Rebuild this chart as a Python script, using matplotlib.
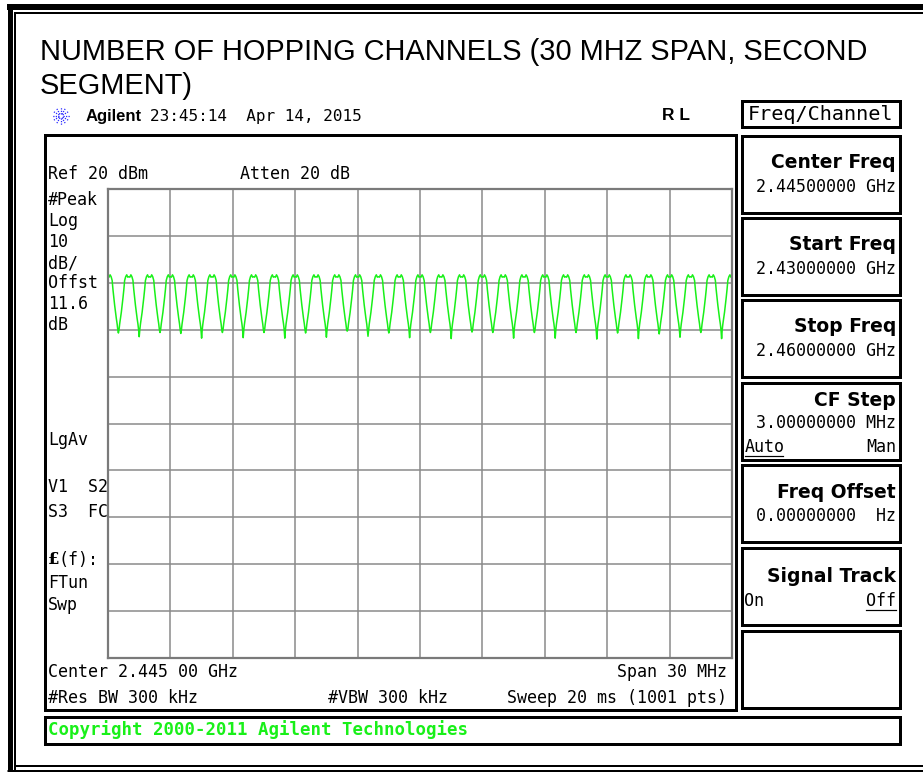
import numpy as np
import matplotlib
matplotlib.use('Agg')
from matplotlib import pyplot as plt
from matplotlib.patches import Rectangle

# ---- trace data ----
# channel centres (MHz), 1 MHz hopping raster across the 30 MHz span
channel_mhz = [2430, 2431, 2432, 2433, 2434, 2435, 2436, 2437, 2438, 2439,
               2440, 2441, 2442, 2443, 2444, 2445, 2446, 2447, 2448, 2449,
               2450, 2451, 2452, 2453, 2454, 2455, 2456, 2457, 2458, 2459,
               2460]
# level at the notch between neighbouring channels (dBm)
dip_dbm = [-10.7, -11.5, -10.6, -10.8, -11.8, -10.6, -11.7, -10.6, -11.8, -10.7,
           -11.6, -10.3, -11.4, -10.7, -11.7, -10.6, -11.9, -10.5, -10.6, -11.8,
           -10.6, -11.8, -10.6, -12.0, -10.7, -11.9, -10.9, -11.6, -10.6, -11.9]
# flat top of one channel (offset from centre in MHz, level dBm)
top_offset_mhz = [-0.20, -0.15, -0.10, -0.05, 0.00, 0.05, 0.10, 0.15, 0.20]
top_dbm = [0.5, 1.3, 1.7, 1.2, 1.3, 1.2, 1.7, 1.3, 0.5]
# skirt falling from the top into the notch
skirt_offset_mhz = [0.24, 0.28, 0.32, 0.36, 0.40, 0.44, 0.47]
skirt_dbm = [-1.5, -3.2, -4.8, -6.3, -7.6, -8.8, -10.0]

span_mhz = (2430, 2460)
ref_dbm = 20
db_per_div = 10

softkeys = [('Center Freq', '2.44500000 GHz'),
            ('Start Freq', '2.43000000 GHz'),
            ('Stop Freq', '2.46000000 GHz'),
            ('CF Step', '3.00000000 MHz'),
            ('Freq Offset', '0.00000000  Hz'),
            ('Signal Track', ''),
            ('', '')]
left_labels = ['#Peak', 'Log', '10', 'dB/', 'Offst', '11.6', 'dB']
left_label_y = [200, 221, 242, 263, 283, 304, 325]
status_labels = ['LgAv', 'V1  S2', 'S3  FC', 'FTun', 'Swp']
status_label_y = [440, 487, 512, 583, 605]

# ---- build trace ----
xs, ys = [], []
last = len(channel_mhz) - 1
for i, c in enumerate(channel_mhz):
    if i > 0:
        for off, lvl in zip(skirt_offset_mhz[::-1], skirt_dbm[::-1]):
            xs.append(c - off)
            ys.append(lvl)
    for off, lvl in zip(top_offset_mhz, top_dbm):
        xs.append(c + off)
        ys.append(lvl)
    if i < last:
        for off, lvl in zip(skirt_offset_mhz, skirt_dbm):
            xs.append(c + off)
            ys.append(lvl)
        xs.append(c + 0.5)
        ys.append(dip_dbm[i])

W, H = 923, 772
MONO = 'DejaVu Sans Mono'
GREEN = '#19f019'

fig = plt.figure(figsize=(W / 100, H / 100), dpi=100)
fig.patch.set_facecolor('white')

# pixel-unit overlay for the frame and instrument annotations
bg = fig.add_axes([0, 0, 1, 1])
bg.set_xlim(0, W)
bg.set_ylim(H, 0)
bg.axis('off')


def px(v):
    return v * 0.72


# page frame (thick / thin double rule)
bg.plot([9.5, 9.5], [4, H], color='black', lw=px(5), solid_capstyle='butt')
bg.plot([15, 15], [12, H], color='black', lw=px(2), solid_capstyle='butt')
bg.plot([7, W], [7, 7], color='black', lw=px(6), solid_capstyle='butt')
bg.plot([14, W], [13, 13], color='black', lw=px(2), solid_capstyle='butt')
bg.plot([14, W], [766, 766], color='black', lw=px(2), solid_capstyle='butt')
bg.plot([7, W], [770.5, 770.5], color='black', lw=px(3), solid_capstyle='butt')

# title
bg.text(40, 60, 'NUMBER OF HOPPING CHANNELS (30 MHZ SPAN, SECOND',
        fontsize=20.9, family='Liberation Sans', va='baseline')
bg.text(40, 94, 'SEGMENT)', fontsize=20.9, family='Liberation Sans', va='baseline')

# header line
cx, cy = 61, 116
for a in np.deg2rad(np.arange(0, 360, 30)):
    bg.plot([cx + 2 * np.cos(a), cx + 9 * np.cos(a)],
            [cy + 2 * np.sin(a), cy + 9 * np.sin(a)],
            color='#2a2aff', lw=0.9, ls=(0, (1, 1)))
bg.text(86, 116, 'Agilent', fontsize=12, family='Liberation Sans',
        weight='bold', va='center')
bg.text(150, 116, '23:45:14  Apr 14, 2015', fontsize=11.5, family=MONO, va='center')
bg.text(662, 116, 'R L', fontsize=12.5, family='Liberation Sans', weight='bold',
        va='center')

# screen box
bg.add_patch(Rectangle((44.5, 134.5), 691.5, 575, fill=False, ec='black', lw=px(3)))
bg.add_patch(Rectangle((44.5, 717), 855, 27, fill=False, ec='black', lw=px(3)))
bg.text(48, 730, 'Copyright 2000-2011 Agilent Technologies', fontsize=12.5,
        family=MONO, weight='bold', color=GREEN, va='center')

# annotations around the graticule
bg.text(48, 174, 'Ref 20 dBm', fontsize=12, family=MONO, va='center')
bg.text(240, 174, 'Atten 20 dB', fontsize=12, family=MONO, va='center')
for lab, y in zip(left_labels, left_label_y):
    bg.text(48, y, lab, fontsize=12, family=MONO, va='center')
for lab, y in zip(status_labels, status_label_y):
    bg.text(48, y, lab, fontsize=12, family=MONO, va='center')
bg.text(48, 560, '£', fontsize=12, family='DejaVu Serif', weight='bold', va='center')
bg.text(59, 560, '(f):', fontsize=12, family=MONO, va='center')

bg.text(48, 672, 'Center 2.445 00 GHz', fontsize=12, family=MONO, va='center')
bg.text(727, 672, 'Span 30 MHz', fontsize=12, family=MONO, va='center', ha='right')
bg.text(48, 698, '#Res BW 300 kHz', fontsize=12, family=MONO, va='center')
bg.text(328, 698, '#VBW 300 kHz', fontsize=12, family=MONO, va='center')
bg.text(727, 698, 'Sweep 20 ms (1001 pts)', fontsize=12, family=MONO,
        va='center', ha='right')

# softkey menu
bg.add_patch(Rectangle((742, 101), 158, 26, fill=False, ec='black', lw=px(3)))
bg.text(821, 114, 'Freq/Channel', fontsize=14.5, family=MONO, va='center', ha='center')
key_tops = [136, 218, 300, 383, 465, 548, 631]
for (lab, val), top in zip(softkeys, key_tops):
    bg.add_patch(Rectangle((742, top), 158, 77, fill=False, ec='black', lw=px(3)))
    if lab == 'CF Step':
        bg.text(896, top + 17, lab, fontsize=13.5, weight='bold', ha='right', va='center')
        bg.text(896, top + 40, val, fontsize=12, family=MONO, ha='right', va='center')
        bg.text(745, top + 64, 'Auto', fontsize=12, family=MONO, va='center')
        bg.text(896, top + 64, 'Man', fontsize=12, family=MONO, ha='right', va='center')
        bg.plot([745, 783], [top + 73, top + 73], color='black', lw=px(1.2))
    elif lab == 'Signal Track':
        bg.text(896, top + 29, lab, fontsize=13.5, weight='bold', ha='right', va='center')
        bg.text(744, top + 53, 'On', fontsize=12, family=MONO, va='center')
        bg.text(896, top + 53, 'Off', fontsize=12, family=MONO, ha='right', va='center')
        bg.plot([866, 896], [top + 62, top + 62], color='black', lw=px(1.2))
    elif lab:
        bg.text(896, top + 27, lab, fontsize=13.5, weight='bold', ha='right', va='center')
        bg.text(896, top + 51, val, fontsize=12, family=MONO, ha='right', va='center')

# graticule and trace
ax = fig.add_axes([108 / W, 1 - 658 / H, 624 / W, 469 / H])
ax.set_facecolor('none')
ax.plot(xs, ys, color=GREEN, lw=1.1)
ax.set_xlim(*span_mhz)
ax.set_ylim(ref_dbm - 10 * db_per_div, ref_dbm)
ax.set_xticks(np.linspace(span_mhz[0], span_mhz[1], 11))
ax.set_yticks(np.arange(ref_dbm - 10 * db_per_div, ref_dbm + 1, db_per_div))
ax.grid(True, color='#8a8a8a', lw=1.1)
ax.set_axisbelow(True)
ax.tick_params(length=0, labelbottom=False, labelleft=False)
for s in ax.spines.values():
    s.set_color('#7a7a7a')
    s.set_linewidth(1.6)

fig.savefig('out.png', dpi=100)
